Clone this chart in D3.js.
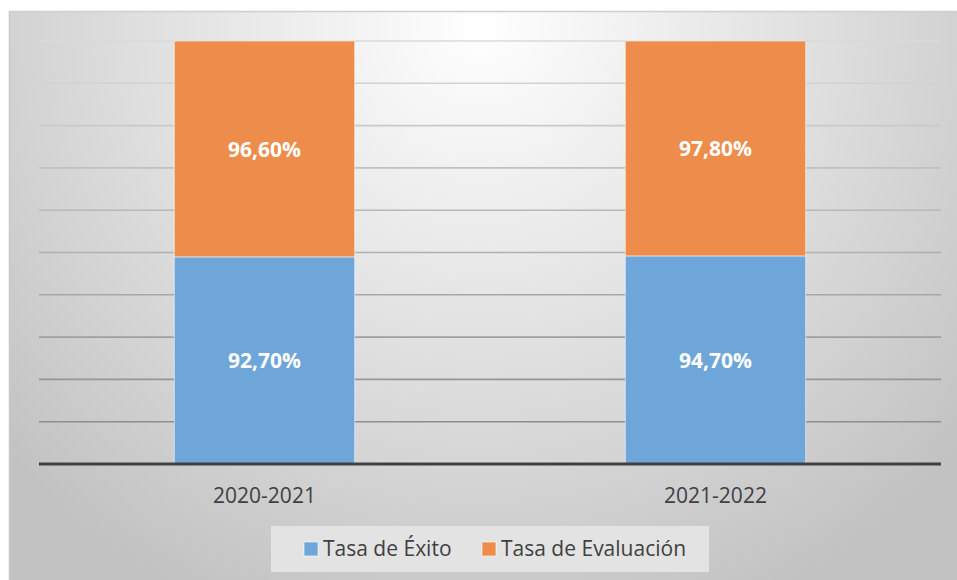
<!DOCTYPE html>
<html><head><meta charset="utf-8">
<script src="https://cdn.jsdelivr.net/npm/d3@7"></script>
<style>body{margin:0;background:#fff}svg{display:block}</style>
</head><body>
<svg id="c" width="957" height="580"></svg>
<script>
const categories = ["2020-2021", "2021-2022"];
const seriesNames = ["Tasa de Éxito", "Tasa de Evaluación"];
const exito = [92.7, 94.7];
const evaluacion = [96.6, 97.8];
const yTicks = [0, 0.1, 0.2, 0.3, 0.4, 0.5, 0.6, 0.7, 0.8, 0.9, 1.0];
const colors = ["#6fa6d9", "#ee8d4b"];

const svg = d3.select("#c");
const W = 957, H = 580;
const FONT = "'Open Sans', sans-serif";
const defs = svg.append("defs");
const rg = defs.append("radialGradient").attr("id","bg").attr("gradientUnits","userSpaceOnUse")
  .attr("cx", 480).attr("cy", 25).attr("r", 640);
rg.append("stop").attr("offset","0").attr("stop-color","#ffffff");
rg.append("stop").attr("offset","0.45").attr("stop-color","#e4e4e4");
rg.append("stop").attr("offset","1").attr("stop-color","#c2c2c2");

svg.append("rect").attr("x",9).attr("y",11).attr("width",W-9).attr("height",H-11)
  .attr("fill","url(#bg)");
svg.append("line").attr("x1",9).attr("x2",W).attr("y1",11.5).attr("y2",11.5).attr("stroke","#cfcfcf").attr("stroke-width",1.5);
svg.append("line").attr("x1",9.5).attr("x2",9.5).attr("y1",11).attr("y2",H).attr("stroke","#c8c8c8").attr("stroke-width",1.5);

const x0 = 39, x1 = 941, yTop = 41, yBase = 464;
const x = d3.scaleBand().domain(categories).range([x0, x1]).paddingInner(0.6).paddingOuter(0.3);
const y = d3.scaleLinear().domain([0, 1]).range([yBase, yTop]);
const gridColor = d3.scaleLinear().domain([1, 0.1]).range(["#dadada", "#8e8e8e"]);

svg.append("g").selectAll("line").data(yTicks.filter(t => t > 0)).join("line")
  .attr("x1", x0).attr("x2", x1)
  .attr("y1", d => y(d)).attr("y2", d => y(d))
  .attr("stroke", d => gridColor(d)).attr("stroke-width", 1.6);

const rows = categories.map((c, i) => ({cat: c, exito: exito[i], evaluacion: evaluacion[i]}));
const stack = d3.stack().keys(["exito", "evaluacion"]).offset(d3.stackOffsetExpand);
const layers = stack(rows);

const g = svg.append("g");
layers.forEach((layer, li) => {
  g.selectAll(null).data(layer).join("rect")
    .attr("x", d => x(d.data.cat))
    .attr("width", x.bandwidth())
    .attr("y", d => y(d[1]))
    .attr("height", d => y(d[0]) - y(d[1]))
    .attr("fill", colors[li])
    .attr("stroke", "rgba(255,255,255,0.55)").attr("stroke-width", 1);
  g.selectAll(null).data(layer).join("text")
    .attr("x", d => x(d.data.cat) + x.bandwidth() / 2)
    .attr("y", d => (y(d[0]) + y(d[1])) / 2 + 8)
    .attr("text-anchor", "middle")
    .attr("font-family", FONT)
    .attr("font-weight", "bold").attr("font-size", 21).attr("fill", "#ffffff")
    .text(d => d3.format(".2f")(d.data[layer.key]).replace(".", ",") + "%");
});

// baseline
svg.append("line").attr("x1", x0).attr("x2", x1).attr("y1", yBase).attr("y2", yBase)
  .attr("stroke", "#404040").attr("stroke-width", 3);

// category axis labels
svg.append("g").selectAll("text").data(categories).join("text")
  .attr("x", d => x(d) + x.bandwidth() / 2).attr("y", 503)
  .attr("text-anchor", "middle")
  .attr("font-family", FONT).attr("font-size", 21).attr("fill", "#404040")
  .text(d => d);

// legend
svg.append("rect").attr("x", 271).attr("y", 526).attr("width", 438).attr("height", 46).attr("fill", "#e3e3e3");
const legX = [304, 482];
const lg = svg.append("g").selectAll("g").data(seriesNames).join("g")
  .attr("transform", (d, i) => `translate(${legX[i]},542)`);
lg.append("rect").attr("width", 14).attr("height", 14).attr("fill", (d, i) => colors[i])
  .attr("stroke", "rgba(255,255,255,0.6)").attr("stroke-width", 1);
lg.append("text").attr("x", 19).attr("y", 14)
  .attr("font-family", FONT).attr("font-size", 21).attr("fill", "#404040")
  .text(d => d);
</script>
</body></html>
